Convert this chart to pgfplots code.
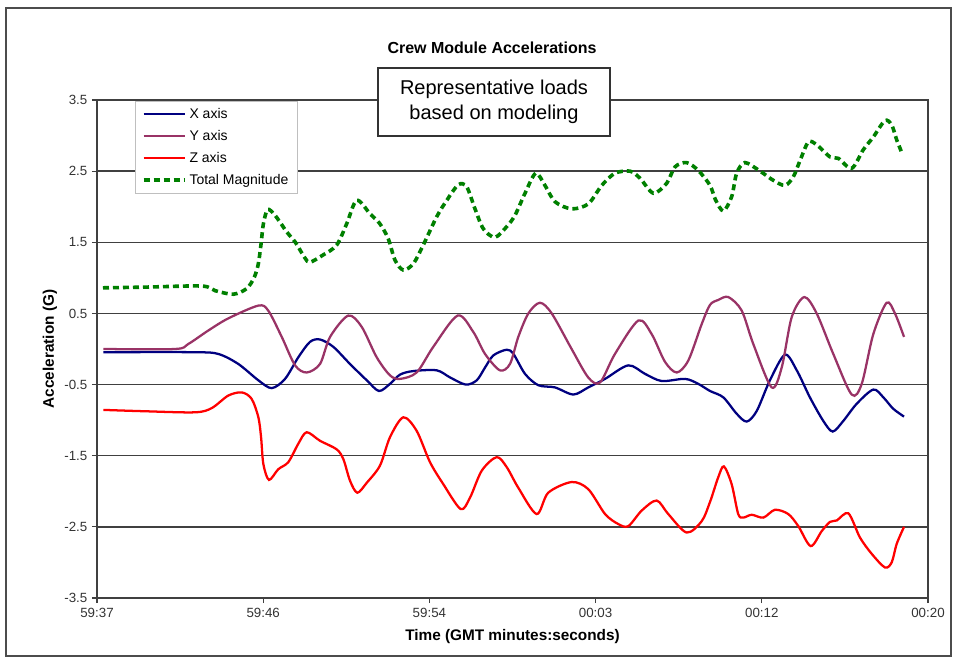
\documentclass[border=0pt]{standalone}
\usepackage{pgfplots}
\pgfplotsset{compat=1.18}
\usepackage{fontspec}
\setmainfont{Liberation Sans}

\definecolor{xnavy}{RGB}{0,0,128}
\definecolor{yplum}{RGB}{153,51,102}
\definecolor{zred}{RGB}{255,0,0}
\definecolor{tgreen}{RGB}{0,128,0}

\begin{document}
\begin{tikzpicture}
\path[use as bounding box] (0pt,0pt) rectangle (718.5pt,496.5pt);
\draw[black!70, line width=1.1pt] (4.5pt,4.5pt) rectangle (713.25pt,490.5pt);

\begin{axis}[
  at={(72.75pt,48pt)}, anchor=south west,
  scale only axis, width=623.25pt, height=373.5pt,
  xmin=0, xmax=43, ymin=-3.5, ymax=3.5,
  xtick={0,8.6,17.2,25.8,34.4,43},
  xticklabels={59:37,59:46,59:54,00:03,00:12,00:20},
  ytick={-3.5,-2.5,-1.5,-0.5,0.5,1.5,2.5,3.5},
  yticklabels={-3.5,-2.5,-1.5,-0.5,0.5,1.5,2.5,3.5},
  tick align=outside, major tick length=3.75pt,
  tick style={black!75, line width=0.8pt},
  xtick pos=bottom, ytick pos=left,
  ymajorgrids, major grid style={black!75, line width=1pt},
  axis line style={black!75, line width=1pt},
  ticklabel style={font=\fontsize{10}{12}\selectfont, text=black!80},
  /pgf/number format/assume math mode=true,
  xlabel={Time (GMT minutes:seconds)},
  ylabel={Acceleration (G)},
  label style={font=\bfseries\fontsize{11.5}{13}\selectfont},
  xlabel style={at={(axis description cs:0.5,-0.078)}, anchor=center},
  ylabel style={at={(axis description cs:-0.0566,0.5)}, anchor=center},
  legend cell align=left,
  legend style={at={(0.0457,0.998)}, anchor=north west, draw=black!25,
    font=\fontsize{10.5}{12}\selectfont, row sep=3.4pt,
    inner xsep=5pt, inner ysep=3pt},
  legend image code/.code={\draw[#1] (0pt,0pt) -- (31pt,0pt);},
]
\addplot[xnavy, line width=1.7pt, smooth] coordinates {
(0.33,-0.045)(5.07,-0.045)(6.28,-0.07)(7.31,-0.21)(8.35,-0.44)(9.04,-0.55)
(9.73,-0.42)(10.42,-0.115)(11.02,0.1)(11.54,0.134)(12.23,0.03)(13.09,-0.21)
(13.96,-0.44)(14.59,-0.59)(15.16,-0.49)(15.68,-0.36)(16.37,-0.31)(17.58,-0.30)
(18.27,-0.40)(19.08,-0.50)(19.65,-0.44)(20.08,-0.26)(20.51,-0.09)(21.20,-0.01)
(21.55,-0.07)(22.15,-0.35)(22.84,-0.51)(23.70,-0.54)(24.65,-0.64)(25.42,-0.54)
(26.29,-0.42)(27.49,-0.23)(28.36,-0.35)(29.22,-0.45)(30.43,-0.42)(31.11,-0.49)
(31.72,-0.59)(32.41,-0.68)(33.10,-0.91)(33.62,-1.02)(34.14,-0.87)(34.82,-0.44)
(35.60,-0.08)(36.21,-0.30)(36.89,-0.68)(37.58,-1.01)(38.07,-1.16)(38.62,-1.01)
(39.31,-0.77)(40.17,-0.57)(40.69,-0.68)(41.20,-0.84)(41.76,-0.95)};
\addlegendentry{X axis}

\addplot[yplum, line width=1.7pt, smooth] coordinates {
(0.33,0)(4.04,0)(4.72,0.07)(5.76,0.26)(6.79,0.43)(8.35,0.61)(8.86,0.54)
(9.56,0.17)(10.25,-0.23)(10.85,-0.33)(11.54,-0.21)(12.06,0.17)(13.00,0.47)
(13.70,0.31)(14.47,-0.115)(15.16,-0.37)(15.68,-0.42)(16.54,-0.33)(17.40,0.03)
(18.66,0.47)(19.47,0.24)(20.08,-0.07)(20.85,-0.30)(21.37,-0.21)(21.80,0.17)
(22.32,0.50)(22.92,0.65)(23.53,0.50)(24.56,0.0)(25.42,-0.40)(26.03,-0.47)
(26.80,-0.07)(28.01,0.40)(28.70,0.21)(29.39,-0.18)(30.00,-0.33)(30.60,-0.16)
(31.29,0.35)(31.72,0.62)(32.15,0.69)(32.67,0.73)(33.36,0.54)(33.96,0.07)
(34.91,-0.54)(35.43,-0.26)(35.95,0.45)(36.60,0.73)(37.24,0.50)(38.10,-0.07)
(39.05,-0.64)(39.57,-0.49)(40.17,0.21)(40.86,0.65)(41.29,0.50)(41.76,0.17)};
\addlegendentry{Y axis}

\addplot[zred, line width=1.7pt, smooth] coordinates {
(0.33,-0.856)(2.48,-0.875)(5.07,-0.89)(5.94,-0.83)(6.79,-0.655)(7.49,-0.61)
(8.00,-0.70)(8.35,-0.96)(8.49,-1.24)(8.61,-1.62)(8.90,-1.84)(9.38,-1.69)
(9.90,-1.59)(10.42,-1.33)(10.85,-1.17)(11.54,-1.29)(12.40,-1.41)(12.75,-1.55)
(13.09,-1.85)(13.47,-2.02)(13.96,-1.88)(14.64,-1.64)(15.16,-1.24)(15.85,-0.96)
(16.54,-1.15)(17.23,-1.59)(17.92,-1.90)(18.82,-2.25)(19.30,-2.09)(19.91,-1.71)
(20.68,-1.52)(21.20,-1.66)(21.80,-1.95)(22.75,-2.32)(23.35,-2.02)(24.56,-1.87)
(25.42,-1.97)(26.29,-2.32)(26.97,-2.46)(27.49,-2.49)(28.19,-2.27)(28.96,-2.13)
(29.56,-2.32)(30.51,-2.58)(31.29,-2.42)(31.72,-2.15)(32.15,-1.80)(32.44,-1.65)
(32.84,-1.90)(33.18,-2.32)(33.44,-2.37)(33.88,-2.33)(34.48,-2.37)(35.08,-2.26)
(35.77,-2.32)(36.29,-2.49)(36.93,-2.77)(37.50,-2.56)(37.93,-2.43)(38.28,-2.41)
(38.88,-2.31)(39.48,-2.65)(40.09,-2.88)(40.77,-3.07)(41.12,-3.00)(41.38,-2.74)
(41.76,-2.50)};
\addlegendentry{Z axis}

\addplot[tgreen, line width=2.7pt, smooth, dash pattern=on 4.5pt off 3pt] coordinates {
(0.31,0.86)(2.5,0.87)(5.42,0.885)(6.11,0.82)(7.05,0.77)(7.75,0.85)(8.14,1.01)
(8.35,1.2)(8.49,1.48)(8.61,1.76)(8.83,1.96)(9.21,1.88)(9.82,1.645)(10.25,1.505)
(10.76,1.28)(11.02,1.22)(11.69,1.32)(12.40,1.46)(12.92,1.76)(13.44,2.09)
(14.13,1.90)(14.64,1.76)(15.07,1.55)(15.42,1.25)(15.85,1.11)(16.37,1.20)
(16.88,1.46)(17.58,1.86)(18.10,2.09)(18.70,2.31)(19.13,2.28)(19.56,1.97)
(19.99,1.69)(20.59,1.57)(21.20,1.72)(21.63,1.88)(22.15,2.19)(22.70,2.47)
(23.18,2.30)(23.70,2.07)(24.56,1.97)(25.42,2.04)(26.12,2.30)(26.80,2.47)
(27.58,2.50)(28.10,2.40)(28.79,2.19)(29.48,2.33)(29.91,2.56)(30.51,2.62)
(31.11,2.51)(31.72,2.30)(32.00,2.10)(32.41,1.94)(32.84,2.14)(33.10,2.47)
(33.53,2.62)(34.31,2.50)(35.00,2.37)(35.60,2.30)(36.03,2.42)(36.38,2.65)
(36.81,2.91)(37.24,2.87)(37.93,2.70)(38.36,2.68)(39.05,2.54)(39.65,2.80)
(40.17,2.98)(40.77,3.21)(41.12,3.15)(41.38,2.94)(41.69,2.73)};
\addlegendentry{Total Magnitude}
\end{axis}

\node[font=\bfseries\fontsize{12}{14}\selectfont] at (369pt,460.5pt) {Crew Module Accelerations};
\node[draw=black!80, line width=0.8pt, fill=white, align=center,
  minimum width=174pt, minimum height=51pt, inner sep=2pt,
  font=\fontsize{15}{18.5}\selectfont] at (370.5pt,420pt)
  {Representative loads\\based on modeling};
\end{tikzpicture}
\end{document}
